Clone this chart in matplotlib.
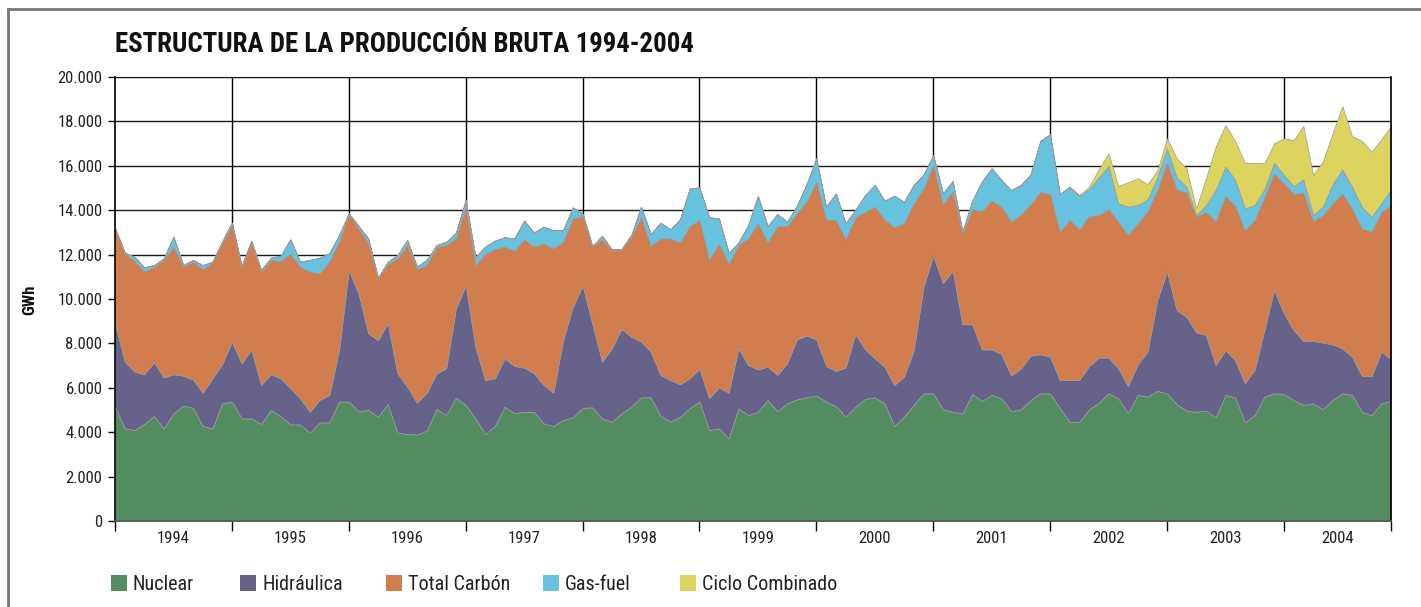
import numpy as np
import matplotlib
matplotlib.use("Agg")
import matplotlib.pyplot as plt
from matplotlib import font_manager
from matplotlib.patches import Rectangle
from matplotlib.lines import Line2D
from matplotlib.ticker import FuncFormatter

# Prefer a narrow sans face; otherwise shrink the regular one a little.
_names = {f.name for f in font_manager.fontManager.ttflist}
_narrow = next((n for n in ['Liberation Sans Narrow', 'Roboto Condensed', 'Open Sans Condensed',
                            'Noto Sans Condensed', 'Arial Narrow'] if n in _names), None)
if _narrow:
    plt.rcParams['font.family'] = [_narrow, 'DejaVu Sans']
    FS = 1.0
else:
    plt.rcParams['font.family'] = ['Liberation Sans', 'DejaVu Sans']
    FS = 0.8

# Monthly gross production (GWh), January 1994 - December 2004
years = ['1994', '1995', '1996', '1997', '1998', '1999', '2000', '2001', '2002', '2003', '2004']
series_names = ['Nuclear', 'Hidráulica', 'Total Carbón', 'Gas-fuel', 'Ciclo Combinado']
colors = ['#528c60', '#67628a', '#d17d4e', '#66c2de', '#ddd460']

nuclear = [
    5150, 4170, 4100, 4370, 4730, 4170, 4850, 5200, 5100, 4280, 4170, 5300,
    5380, 4620, 4620, 4370, 5000, 4730, 4350, 4350, 3980, 4440, 4440, 5380,
    5380, 4950, 5000, 4700, 5270, 3980, 3920, 3900, 4070, 5050, 4770, 5560,
    5230, 4620, 3920, 4280, 5150, 4850, 4920, 4920, 4400, 4280, 4550, 4670,
    5100, 5120, 4620, 4470, 4850, 5150, 5570, 5570, 4740, 4470, 4700, 5080,
    5380, 4100, 4170, 3720, 5080, 4770, 4920, 5450, 4950, 5300, 5480, 5570,
    5650, 5380, 5180, 4700, 5150, 5500, 5570, 5300, 4280, 4700, 5230, 5750,
    5750, 5030, 4920, 4850, 5720, 5410, 5680, 5530, 4950, 5030, 5450, 5750,
    5750, 5080, 4470, 4470, 5030, 5330, 5750, 5530, 4850, 5680, 5600, 5860,
    5750, 5260, 4970, 4920, 4970, 4670, 5680, 5570, 4450, 4770, 5600, 5750,
    5720, 5450, 5230, 5300, 5030, 5450, 5750, 5680, 4920, 4770, 5300, 5410,
]
hidraulica = [
    3750, 3010, 2630, 2240, 2420, 2290, 1760, 1350, 1280, 1500, 2260, 1770,
    2700, 2480, 3110, 1760, 1610, 1700, 1630, 1180, 940, 1010, 1240, 2320,
    5920, 5310, 3450, 3450, 3630, 2670, 2130, 1430, 1710, 1600, 2110, 4020,
    5370, 3230, 2430, 2150, 2180, 2130, 1990, 1730, 1730, 1500, 3600, 4980,
    5500, 3780, 2560, 3310, 3800, 3150, 2510, 2060, 1840, 1880, 1460, 1350,
    1470, 1430, 1850, 2060, 2700, 2260, 1910, 1500, 1630, 1800, 2700, 2780,
    2530, 1600, 1580, 2210, 3270, 2230, 1760, 1650, 1850, 1800, 2470, 4810,
    6200, 5680, 6360, 4010, 3140, 2320, 2050, 1990, 1600, 1850, 2000, 1760,
    1650, 1270, 1880, 1880, 1950, 2030, 1610, 1350, 1230, 1380, 2030, 4090,
    5480, 4240, 4230, 3580, 3410, 2360, 2020, 1670, 1750, 2050, 3000, 4660,
    3630, 3150, 2890, 2820, 3000, 2510, 2030, 1720, 1610, 1760, 2330, 1870,
]
carbon = [
    4280, 4850, 5000, 4620, 4310, 5300, 5750, 4910, 5300, 5560, 5210, 5430,
    5250, 4360, 4850, 5100, 5150, 5280, 6050, 5930, 6310, 5710, 6000, 4880,
    2530, 2920, 4050, 2780, 2680, 5180, 6380, 6020, 5750, 5680, 5550, 3150,
    3560, 3680, 5680, 5810, 5030, 5200, 5780, 5710, 6370, 6500, 4430, 3980,
    3140, 3460, 5510, 4430, 3560, 4510, 5600, 4760, 6150, 6380, 6390, 6860,
    6710, 6230, 6480, 5800, 4650, 5700, 6580, 5590, 6710, 6190, 5680, 6050,
    7110, 6610, 6800, 5780, 5260, 6200, 6830, 6640, 7100, 6910, 6610, 4420,
    4090, 3550, 3580, 4100, 5180, 6230, 6700, 6640, 6930, 6930, 6810, 7320,
    7330, 6680, 7210, 6790, 6760, 6420, 6680, 6600, 6800, 6350, 6300, 4960,
    4910, 5440, 5590, 5210, 5550, 6480, 6940, 6960, 6900, 6740, 6000, 5250,
    5860, 6130, 6670, 5390, 5750, 6350, 6980, 6680, 6650, 6500, 6300, 6950,
]
gas_fuel = [
    20, 60, 170, 200, 70, 70, 450, 70, 80, 190, 40, 100,
    110, 40, 50, 70, 100, 240, 660, 220, 530, 700, 380, 300,
    30, 110, 230, 30, 100, 150, 230, 110, 230, 100, 150, 260,
    300, 370, 330, 390, 420, 550, 840, 640, 760, 820, 520, 500,
    110, 30, 160, 30, 50, 70, 480, 540, 710, 410, 1040, 1690,
    1470, 1920, 1130, 510, 110, 600, 1230, 750, 540, 190, 340, 770,
    1050, 570, 1200, 720, 330, 750, 980, 840, 1420, 970, 830, 610,
    450, 500, 460, 70, 390, 1330, 1460, 1200, 1430, 1330, 1360, 2300,
    2690, 1700, 1500, 1500, 1200, 1700, 1950, 830, 1280, 820, 560, 570,
    650, 540, 270, 70, 300, 1400, 1320, 1180, 980, 670, 350, 480,
    380, 360, 600, 270, 380, 860, 1080, 980, 980, 680, 380, 710,
]
ciclo_combinado = [
    0, 0, 0, 0, 0, 0, 0, 0, 0, 0, 0, 0,
    0, 0, 0, 0, 0, 0, 0, 0, 0, 0, 0, 0,
    0, 0, 0, 0, 0, 0, 0, 0, 0, 0, 0, 0,
    0, 0, 0, 0, 0, 0, 0, 0, 0, 0, 0, 0,
    0, 0, 0, 0, 0, 0, 0, 0, 0, 0, 0, 0,
    0, 0, 0, 0, 0, 0, 0, 0, 0, 0, 0, 0,
    0, 0, 0, 0, 0, 0, 0, 0, 0, 0, 0, 0,
    0, 0, 0, 0, 0, 0, 0, 0, 0, 0, 0, 0,
    0, 0, 0, 40, 120, 380, 570, 780, 1100, 1210, 690, 300,
    450, 860, 830, 300, 1210, 1950, 1880, 1740, 2060, 1900, 1160, 870,
    1650, 2070, 2400, 1810, 2030, 2290, 2850, 2280, 2970, 2930, 2880, 2850,
]

months = np.arange(len(nuclear))
last = months[-1]

W, H = 1421, 607
fig = plt.figure(figsize=(W / 100, H / 100), dpi=100)
ax = fig.add_axes([115 / W, 1 - 521 / H, 1276 / W, 444 / H])

ax.stackplot(months, nuclear, hidraulica, carbon, gas_fuel, ciclo_combinado,
             colors=colors, edgecolor='#9a9a9a', linewidth=0.5, zorder=2)

ax.set_xlim(0, last)
ax.set_ylim(0, 20000)

# gridlines behind the areas
for v in range(2000, 20001, 2000):
    ax.axhline(v, color='#1a1a1a', lw=1.0, zorder=1)
year_edges = list(range(0, last, 12)) + [last]
for e in year_edges[1:-1]:
    ax.axvline(e, color='#000000', lw=1.0, zorder=1)

ax.set_yticks(range(0, 20001, 2000))
ax.yaxis.set_major_formatter(FuncFormatter(lambda v, p: f"{int(v):,}".replace(',', '.')))
ax.set_xticks(year_edges)
ax.set_xticklabels([])
centers = [(year_edges[k] + year_edges[k + 1]) / 2 for k in range(len(years))]
ax.set_xticks(centers, minor=True)
ax.set_xticklabels(years, minor=True)
ax.tick_params(axis='x', which='major', direction='out', length=7, width=1, color='#000000')
ax.tick_params(axis='x', which='minor', length=0, pad=7, labelsize=12 * FS, labelcolor='#222222')
ax.tick_params(axis='y', direction='out', length=5, width=1, color='#000000',
               labelsize=12 * FS, labelcolor='#222222', pad=4)

for side in ['left', 'right']:
    ax.spines[side].set_color('#000000')
    ax.spines[side].set_linewidth(1.2)
ax.spines['top'].set_color('#1a1a1a')
ax.spines['bottom'].set_color('#555555')
ax.spines['bottom'].set_linewidth(1.2)

fig.text(30 / W, 1 - 300 / H, 'GWh', rotation=90, ha='center', va='center',
         fontsize=12 * FS, fontweight='bold', color='#111111')

fig.text(115 / W, 1 - 45 / H, 'ESTRUCTURA DE LA PRODUCCIÓN BRUTA 1994-2004',
         ha='left', va='center', fontsize=19.4 * FS, fontweight='bold', color='#111111')

# legend row
legend_x = [111, 240, 386, 543, 680]
for lx, name, c in zip(legend_x, series_names, colors):
    fig.add_artist(Rectangle((lx / W, 1 - 591 / H), 16 / W, 16 / H,
                             transform=fig.transFigure, facecolor=c, edgecolor='none'))
    fig.text((lx + 22) / W, 1 - 584 / H, name, ha='left', va='center',
             fontsize=14.5 * FS, color='#222222')

# outer frame
fig.add_artist(Line2D([8 / W, 1.0], [1 - 9 / H, 1 - 9 / H], transform=fig.transFigure,
                      color='#777777', lw=2))
fig.add_artist(Line2D([8 / W, 8 / W], [1 - 9 / H, 0.0], transform=fig.transFigure,
                      color='#777777', lw=2))

fig.savefig('out.png', dpi=100)
